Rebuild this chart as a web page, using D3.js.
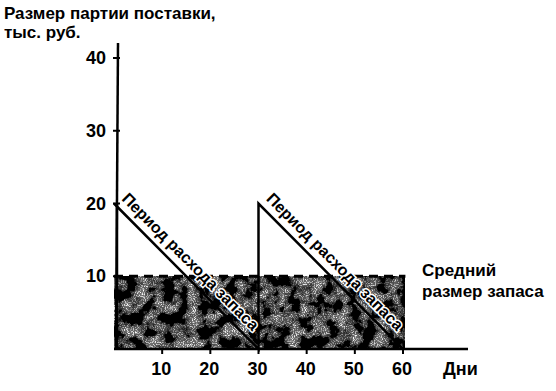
<!DOCTYPE html>
<html lang="ru">
<head>
<meta charset="UTF-8">
<title>Размер партии поставки</title>
<script src="https://d3js.org/d3.v7.min.js"></script>
<style>
    body { margin: 0; padding: 0; background: #fff; }
    svg text { font-family: "Liberation Sans", Arial, sans-serif; fill: #000; }
</style>
</head>
<body>
<div id="chart"></div>
<script>
    // data
    const xTicks = [10, 20, 30, 40, 50, 60];
    const yTicks = [10, 20, 30, 40];
    const stockDays = [0, 30, 30, 60];
    const stockValues = [20, 0, 20, 0];
    const averageStock = 10;
    const periodStarts = [0, 30];
    const periodLabel = "Период расхода запаса";

    const width = 556, height = 391;

    const svg = d3.select("#chart").append("svg")
        .attr("width", width)
        .attr("height", height);

    const x = d3.scaleLinear().domain([0, 60]).range([114, 403]);
    const y = d3.scaleLinear().domain([0, 40]).range([349, 58]);

    // mottled texture for the average stock block
    const defs = svg.append("defs");
    const f = defs.append("filter").attr("id", "mottle")
        .attr("x", 0).attr("y", 0).attr("width", 1).attr("height", 1);
    f.append("feTurbulence").attr("type", "fractalNoise")
        .attr("baseFrequency", "0.08").attr("numOctaves", 3).attr("seed", 4)
        .attr("result", "noise");
    f.append("feColorMatrix").attr("in", "noise").attr("type", "matrix")
        .attr("values", "0 0 0 0 0  0 0 0 0 0  0 0 0 0 0  -3.0 0 0 0 2.25")
        .attr("result", "dark");
    f.append("feTurbulence").attr("type", "fractalNoise")
        .attr("baseFrequency", "0.9").attr("numOctaves", 1).attr("seed", 9)
        .attr("result", "fine");
    f.append("feColorMatrix").attr("in", "fine").attr("type", "matrix")
        .attr("values", "0 0 0 0 1  0 0 0 0 1  0 0 0 0 1  0 -5 0 0 2.5")
        .attr("result", "speck");
    f.append("feFlood").attr("flood-color", "#6e6e6e").attr("result", "base");
    f.append("feMerge").call(m => {
        m.append("feMergeNode").attr("in", "base");
        m.append("feMergeNode").attr("in", "speck");
        m.append("feMergeNode").attr("in", "dark");
    });

    svg.append("rect")
        .attr("x", x(0))
        .attr("y", y(averageStock))
        .attr("width", x(60.3) - x(0))
        .attr("height", y(0) - y(averageStock))
        .attr("filter", "url(#mottle)");

    // dashed average line
    svg.append("line")
        .attr("x1", x(0)).attr("x2", x(60.5))
        .attr("y1", y(averageStock)).attr("y2", y(averageStock))
        .attr("stroke", "#000").attr("stroke-width", 3)
        .attr("stroke-dasharray", "9,6");

    // axes
    svg.append("line")
        .attr("x1", x(0)).attr("x2", 468)
        .attr("y1", y(0)).attr("y2", y(0))
        .attr("stroke", "#000").attr("stroke-width", 2.5);
    svg.append("line")
        .attr("x1", x(0) + 2).attr("x2", x(0) + 4)
        .attr("y1", y(0)).attr("y2", 43)
        .attr("stroke", "#000").attr("stroke-width", 2.5);

    svg.selectAll(".xtick").data(xTicks).enter().append("line")
        .attr("x1", d => x(d)).attr("x2", d => x(d))
        .attr("y1", y(0)).attr("y2", y(0) + 5)
        .attr("stroke", "#000").attr("stroke-width", 2);
    svg.selectAll(".xlab").data(xTicks).enter().append("text")
        .attr("x", d => x(d) - 1).attr("y", 375)
        .attr("text-anchor", "middle")
        .attr("font-size", 18).attr("font-weight", "bold")
        .text(d => d);

    svg.selectAll(".ytick").data(yTicks).enter().append("line")
        .attr("x1", d => x(0) - 1).attr("x2", d => x(0) + 6)
        .attr("y1", d => y(d)).attr("y2", d => y(d))
        .attr("stroke", "#000").attr("stroke-width", 2);
    svg.selectAll(".ylab").data(yTicks).enter().append("text")
        .attr("x", 106).attr("y", d => y(d) + 6)
        .attr("text-anchor", "end")
        .attr("font-size", 18).attr("font-weight", "bold")
        .text(d => d);

    // stock sawtooth
    const line = d3.line().x(d => x(d[0])).y(d => y(d[1]));
    const pts = stockDays.map((d, i) => [d, stockValues[i]]);
    svg.append("path")
        .attr("d", line(pts))
        .attr("fill", "none").attr("stroke", "#000").attr("stroke-width", 2.5);
    svg.append("line")
        .attr("x1", x(0) + 3).attr("x2", x(0) + 3)
        .attr("y1", y(0)).attr("y2", y(20))
        .attr("stroke", "#000").attr("stroke-width", 2.5);

    // rotated labels along the consumption lines
    const ang = Math.atan2(y(0) - y(20), x(30) - x(0)) * 180 / Math.PI;
    svg.selectAll(".plab").data(periodStarts).enter().append("text")
        .attr("transform", d => `translate(${x(d) + 7},${y(20) - 4}) rotate(${ang})`)
        .attr("font-size", 16).attr("font-weight", "bold")
        .attr("stroke", "#fff").attr("stroke-width", 3).attr("paint-order", "stroke")
        .text(periodLabel);

    // titles
    svg.append("text").attr("x", 4).attr("y", 19)
        .attr("font-size", 17).attr("font-weight", "bold")
        .text("Размер партии поставки,");
    svg.append("text").attr("x", 4).attr("y", 38)
        .attr("font-size", 17).attr("font-weight", "bold")
        .text("тыс. руб.");
    svg.append("text").attr("x", 422).attr("y", 276)
        .attr("font-size", 17).attr("font-weight", "bold")
        .text("Средний");
    svg.append("text").attr("x", 422).attr("y", 297)
        .attr("font-size", 17).attr("font-weight", "bold")
        .text("размер запаса");
    svg.append("text").attr("x", 443).attr("y", 375)
        .attr("font-size", 18).attr("font-weight", "bold")
        .text("Дни");
</script>
</body>
</html>
